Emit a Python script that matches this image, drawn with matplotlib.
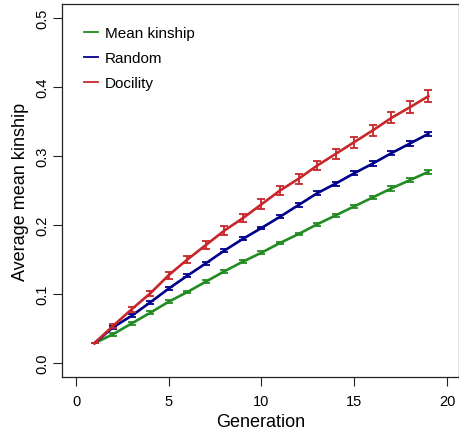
import matplotlib
matplotlib.use("Agg")
import matplotlib.pyplot as plt
import numpy as np

generations = list(range(1, 20))
mean_kinship = [0.029, 0.042, 0.0575, 0.073, 0.089, 0.103, 0.118, 0.133, 0.147, 0.160,
                0.174, 0.187, 0.201, 0.214, 0.227, 0.240, 0.253, 0.265, 0.277]
mean_kinship_err = [0.0, 0.002, 0.002, 0.002, 0.002, 0.002, 0.002, 0.002, 0.002, 0.002,
                    0.002, 0.002, 0.002, 0.002, 0.002, 0.002, 0.003, 0.003, 0.003]
random_sel = [0.029, 0.052, 0.0686, 0.088, 0.108, 0.1266, 0.1445, 0.163, 0.180, 0.1957,
              0.212, 0.229, 0.246, 0.260, 0.275, 0.289, 0.304, 0.318, 0.332]
random_err = [0.0, 0.002, 0.002, 0.002, 0.002, 0.002, 0.002, 0.002, 0.002, 0.002,
              0.002, 0.003, 0.003, 0.003, 0.003, 0.003, 0.003, 0.003, 0.003]
docility = [0.029, 0.054, 0.078, 0.101, 0.1275, 0.150, 0.171, 0.192, 0.210, 0.230,
            0.250, 0.267, 0.286, 0.303, 0.320, 0.337, 0.355, 0.3705, 0.3865]
docility_err = [0.0, 0.003, 0.004, 0.004, 0.005, 0.005, 0.006, 0.006, 0.006, 0.007,
                0.007, 0.007, 0.007, 0.007, 0.008, 0.008, 0.008, 0.009, 0.009]

series = [("Mean kinship", mean_kinship, mean_kinship_err, "#228B22"),
          ("Random", random_sel, random_err, "#00008B"),
          ("Docility", docility, docility_err, "#C8262A")]

W, H = 459, 431
fig = plt.figure(figsize=(W/100, H/100), dpi=100)
plt.rcParams['font.family'] = ['Liberation Sans', 'DejaVu Sans']
ax = fig.add_axes([62/W, (H-378)/H, (459-62)/W, (378-5)/H])

handles = []
for name, vals, err, col in series:
    ln, = ax.plot(generations, vals, color=col, lw=1.9, label=name, zorder=3)
    ax.errorbar(generations, vals, yerr=err, fmt='none', ecolor=col, elinewidth=1.3,
                capsize=3, capthick=1.3, zorder=3)
    handles.append(ln)

ax.set_xlim(-0.755, 20.65)
ax.set_ylim(-0.02, 0.52)
ax.set_xticks([0, 5, 10, 15, 20])
ax.set_yticks([0.0, 0.1, 0.2, 0.3, 0.4, 0.5])
ax.set_yticklabels(["0.0", "0.1", "0.2", "0.3", "0.4", "0.5"], rotation=90, va='center')
ax.tick_params(axis='both', direction='out', length=6.5, width=0.8, labelsize=10.5, color='#222222')
ax.tick_params(axis='x', pad=5.5)
ax.tick_params(axis='y', pad=2.5)
for s in ax.spines.values():
    s.set_linewidth(0.9)
    s.set_color('#222222')

ax.set_xlabel("Generation", fontsize=13, labelpad=3.5)
ax.set_ylabel("Average mean kinship", fontsize=13, labelpad=5)

leg = ax.legend(handles=handles, loc='upper left', bbox_to_anchor=(84/W, (H-27)/H),
                bbox_transform=fig.transFigure, frameon=False, fontsize=11,
                borderpad=0, borderaxespad=0, handlelength=0.92, handletextpad=0.46,
                labelspacing=0.72)
for l in leg.get_lines():
    l.set_linewidth(1.3)

fig.savefig("out.png", dpi=100)
